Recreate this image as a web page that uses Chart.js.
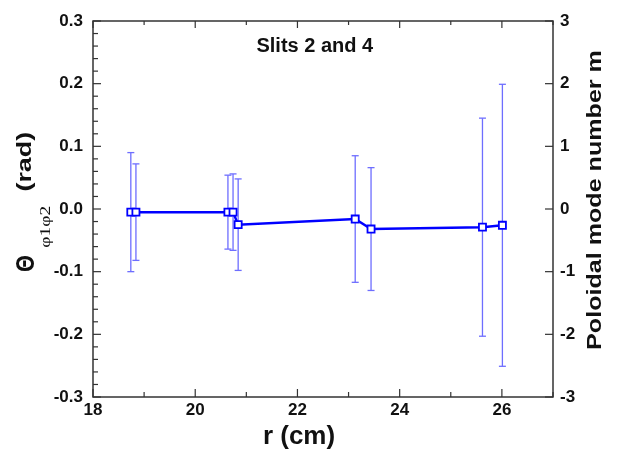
<!DOCTYPE html>
<html>
<head>
<meta charset="utf-8">
<script src="https://cdn.jsdelivr.net/npm/chart.js@4/dist/chart.umd.min.js"></script>
<style>
  html, body { margin: 0; padding: 0; background: #fff; }
  #wrap { width: 617px; height: 458px; position: relative; }
</style>
</head>
<body>
<div id="wrap"><canvas id="c" width="617" height="458"></canvas></div>
<script>
// ---- data ----
const radius = [18.74, 18.84, 20.64, 20.74, 20.84, 23.13, 23.44, 25.62, 26.01];
const theta  = [-0.005, -0.005, -0.005, -0.005, -0.025, -0.016, -0.032, -0.029, -0.026];
const thetaErr = [0.095, 0.077, 0.059, 0.061, 0.073, 0.101, 0.098, 0.174, 0.225];

const xRange = [18, 27];
const xMajorStep = 2, xMinorStep = 1;
const yRange = [-0.3, 0.3];
const yMajorStep = 0.1, yMinorStep = 0.02;
const y2Range = [-3, 3];
const y2MajorStep = 1;

const titleText = 'Slits 2 and 4';
const titlePos = { x: 22.34, y: 0.259 };
const xTitle = 'r (cm)';
const y2Title = 'Poloidal mode number m';
const yTitleMain = 'Θ', yTitleSub = 'φ1φ2', yTitleUnit = '(rad)';

const FONT = '"Liberation Sans", Arial, Helvetica, sans-serif';
const BLUE = 'rgb(0,0,255)';
const ERRBLUE = 'rgb(110,110,255)';

const mainData = radius.map((r, i) => ({ x: r, y: theta[i] }));
const errData = [];
radius.forEach((r, i) => {
  errData.push({ x: r, y: theta[i] - thetaErr[i] });
  errData.push({ x: r, y: theta[i] + thetaErr[i] });
  errData.push({ x: r, y: null });
});

function vText(ctx, text, cx, cy, font, stretch) {
  ctx.save();
  ctx.translate(cx, cy);
  ctx.rotate(-Math.PI / 2);
  ctx.scale(stretch, 1);
  ctx.font = font;
  ctx.textAlign = 'center';
  ctx.textBaseline = 'middle';
  ctx.fillText(text, 0, 0);
  ctx.restore();
}

const decorPlugin = {
  id: 'decor',
  afterDraw(chart) {
    const { ctx, chartArea: a, scales } = chart;
    const x = scales.x, y = scales.y, y2 = scales.y2;
    ctx.save();
    // frame
    ctx.strokeStyle = '#333';
    ctx.lineWidth = 1.5;
    ctx.strokeRect(a.left, a.top, a.right - a.left, a.bottom - a.top);
    ctx.lineWidth = 1.2;
    const seg = (x1, y1, x2, y2_) => { ctx.beginPath(); ctx.moveTo(x1, y1); ctx.lineTo(x2, y2_); ctx.stroke(); };
    // x ticks (bottom & top)
    const nx = Math.round((xRange[1] - xRange[0]) / xMinorStep);
    for (let k = 0; k <= nx; k++) {
      const v = xRange[0] + k * xMinorStep;
      const px = x.getPixelForValue(v);
      const major = Math.abs((v - xRange[0]) / xMajorStep - Math.round((v - xRange[0]) / xMajorStep)) < 1e-6;
      seg(px, a.bottom, px, a.bottom - (major ? 8 : 5));
      seg(px, a.top, px, a.top + (major ? 7 : 4));
    }
    // left y ticks
    const ny = Math.round((yRange[1] - yRange[0]) / yMinorStep);
    for (let k = 0; k <= ny; k++) {
      const v = yRange[0] + k * yMinorStep;
      const py = y.getPixelForValue(v);
      const major = k % Math.round(yMajorStep / yMinorStep) === 0;
      seg(a.left, py, a.left + (major ? 8 : 5), py);
    }
    // right y2 ticks
    for (let v = y2Range[0]; v <= y2Range[1]; v += y2MajorStep) {
      const py = y2.getPixelForValue(v);
      seg(a.right, py, a.right - 8, py);
    }
    // in-plot title
    ctx.fillStyle = '#111';
    ctx.font = 'bold 20px ' + FONT;
    ctx.textAlign = 'center';
    ctx.textBaseline = 'middle';
    ctx.fillText(titleText, x.getPixelForValue(titlePos.x), y.getPixelForValue(titlePos.y));
    // x title
    ctx.font = 'bold 26px ' + FONT;
    ctx.fillText(xTitle, 299, 437);
    // left title
    vText(ctx, yTitleMain, 26.5, 263.5, 'bold 26px ' + FONT, 0.83);
    vText(ctx, yTitleSub, 46.5, 226.7, '15px "Liberation Serif", "Times New Roman", serif', 1.3);
    vText(ctx, yTitleUnit, 25, 161.7, 'bold 21px ' + FONT, 1.28);
    // right title
    vText(ctx, y2Title, 595, 200, 'bold 20px ' + FONT, 1.255);
    ctx.restore();
  }
};

new Chart(document.getElementById('c'), {
  type: 'scatter',
  data: {
    datasets: [
      {
        data: mainData,
        showLine: true,
        borderColor: BLUE,
        borderWidth: 2.5,
        pointStyle: 'rect',
        pointRadius: 5,
        pointBorderWidth: 1.8,
        pointBorderColor: BLUE,
        pointBackgroundColor: '#fff',
        tension: 0
      },
      {
        data: errData,
        showLine: true,
        spanGaps: false,
        borderColor: ERRBLUE,
        borderWidth: 1.3,
        pointStyle: 'line',
        pointRadius: 3.5,
        pointBorderWidth: 1.3,
        pointBorderColor: ERRBLUE,
        tension: 0
      }
    ]
  },
  options: {
    responsive: false,
    animation: false,
    events: [],
    layout: { padding: { top: 21, left: 0, right: 0, bottom: 0 } },
    plugins: { legend: { display: false }, tooltip: { enabled: false } },
    scales: {
      x: {
        type: 'linear',
        min: xRange[0], max: xRange[1],
        grid: { display: false, drawTicks: false },
        border: { display: false },
        ticks: {
          stepSize: xMajorStep,
          includeBounds: false,
          padding: 3,
          color: '#111',
          font: { family: FONT, size: 17, weight: 'bold' },
          callback: v => (v === xRange[1] ? '' : String(v))
        },
        afterFit: s => { s.height = 61; }
      },
      y: {
        type: 'linear',
        position: 'left',
        min: yRange[0], max: yRange[1],
        grid: { display: false, drawTicks: false },
        border: { display: false },
        ticks: {
          stepSize: yMajorStep,
          padding: 10,
          color: '#111',
          font: { family: FONT, size: 17, weight: 'bold' },
          callback: v => Number(v).toFixed(1)
        },
        afterFit: s => { s.width = 93; }
      },
      y2: {
        type: 'linear',
        position: 'right',
        min: y2Range[0], max: y2Range[1],
        grid: { display: false, drawTicks: false },
        border: { display: false },
        ticks: {
          stepSize: y2MajorStep,
          padding: 7,
          color: '#111',
          font: { family: FONT, size: 17, weight: 'bold' },
          callback: v => String(Math.round(v))
        },
        afterFit: s => { s.width = 64; }
      }
    }
  },
  plugins: [decorPlugin]
});
</script>
</body>
</html>
